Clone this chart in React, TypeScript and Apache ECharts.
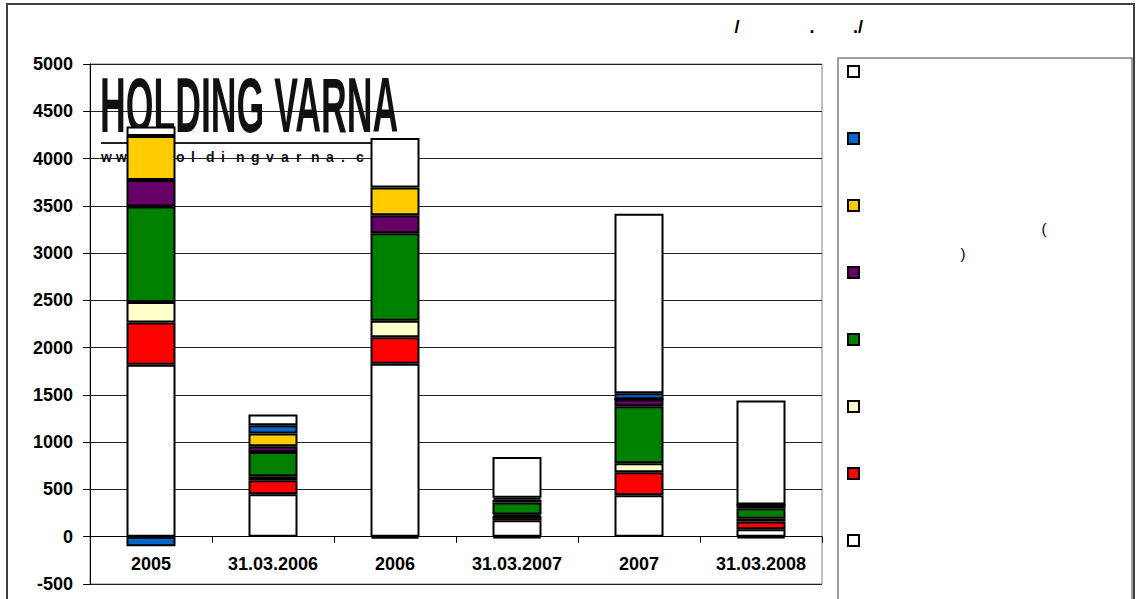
import React, { useEffect, useRef } from "react";
import * as echarts from "echarts";

const categories = ["2005", "31.03.2006", "2006", "31.03.2007", "2007", "31.03.2008"];

// stacked from bottom to top
const whiteBottom = [1820, 450, 1830, 175, 440, 80];
const red = [447, 148, 280, 45, 243, 80];
const lightYellow = [217, 42, 175, 15, 95, 30];
const green = [1009, 256, 925, 127, 602, 110];
const purple = [280, 60, 190, 30, 74, 40];
const yellow = [466, 137, 293, 20, 0, 0];
const blue = [-100, 85, -20, -15, 64, -15];
const whiteTop = [100, 114, 523, 430, 1899, 1100];

const yTicks = { min: -500, max: 5000, interval: 500 };

const seriesDefs = [
  { name: "s1", data: whiteBottom, color: "#FFFFFF" },
  { name: "s2", data: red, color: "#FF0000" },
  { name: "s3", data: lightYellow, color: "#FFFFCC" },
  { name: "s4", data: green, color: "#008000" },
  { name: "s5", data: purple, color: "#660066" },
  { name: "s6", data: yellow, color: "#FFCC00" },
  { name: "s7", data: blue, color: "#0066CC" },
  { name: "s8", data: whiteTop, color: "#FFFFFF" },
];

const titleFragments = [
  { text: "/", x: 737 },
  { text: ".", x: 812 },
  { text: "./", x: 858 },
];

const logoTitle = "HOLDING VARNA";
const logoSite = "www.holdingvarna.com";

const FONT = "'Liberation Sans', Arial, sans-serif";

const GRID_TOP = 64;
const GRID_HEIGHT = 520;

export default function App() {
  const ref = useRef<HTMLDivElement>(null);

  useEffect(() => {
    document.body.style.margin = "0";
    if (!ref.current) return;
    const chart = echarts.init(ref.current, null, { renderer: "svg" });

    // distance from grid bottom up to the zero line
    const zeroOffset = (GRID_HEIGHT * (0 - yTicks.min)) / (yTicks.max - yTicks.min);

    const siteChars = logoSite.split("").map((ch, i) => ({
      type: "text",
      x: 101 + i * 15,
      y: 157,
      z: 1,
      silent: true,
      style: {
        text: ch,
        fontFamily: FONT,
        fontWeight: "bold",
        fontSize: 14,
        fill: "#111",
        align: "left",
        verticalAlign: "middle",
      },
    }));

    const graphics: any[] = [
      {
        type: "rect",
        z: 0,
        silent: true,
        shape: { x: 7, y: 4, width: 1127, height: 700 },
        style: { fill: "none", stroke: "#404040", lineWidth: 2 },
      },
      {
        type: "rect",
        z: 0,
        silent: true,
        shape: { x: 838, y: 58, width: 294, height: 700 },
        style: { fill: "none", stroke: "#808080", lineWidth: 1.5 },
      },
      ...titleFragments.map((f) => ({
        type: "text",
        x: f.x,
        y: 27,
        silent: true,
        style: {
          text: f.text,
          fontFamily: FONT,
          fontWeight: "bold",
          fontSize: 18,
          fill: "#000",
          align: "center",
          verticalAlign: "middle",
        },
      })),
      {
        type: "text",
        x: 1044,
        y: 228,
        silent: true,
        style: { text: "(", fontFamily: FONT, fontSize: 15, fill: "#000", align: "center", verticalAlign: "middle" },
      },
      {
        type: "text",
        x: 963,
        y: 253,
        silent: true,
        style: { text: ")", fontFamily: FONT, fontSize: 15, fill: "#000", align: "center", verticalAlign: "middle" },
      },
      {
        type: "text",
        x: 100,
        y: 105,
        z: 1,
        scaleX: 1.08,
        scaleY: 2.35,
        silent: true,
        style: {
          text: logoTitle,
          fontFamily: FONT,
          fontWeight: "bold",
          fontSize: 33,
          fill: "#111",
          align: "left",
          verticalAlign: "middle",
        },
      },
      {
        type: "line",
        z: 1,
        silent: true,
        shape: { x1: 101, y1: 143, x2: 398, y2: 143 },
        style: { stroke: "#222", lineWidth: 2 },
      },
      ...siteChars,
    ];

    chart.setOption({
      animation: false,
      backgroundColor: "#fff",
      grid: {
        left: 90,
        top: GRID_TOP,
        width: 732,
        height: GRID_HEIGHT,
        outerBoundsMode: "none",
        containLabel: false,
        show: true,
        borderColor: "#808080",
        borderWidth: 1,
        backgroundColor: "transparent",
      },
      legend: {
        orient: "vertical",
        left: 842,
        top: 60,
        itemWidth: 11,
        itemHeight: 11,
        itemGap: 54,
        icon: "rect",
        data: seriesDefs.map((s) => s.name).reverse(),
        formatter: () => "",
        textStyle: { fontSize: 11 },
        itemStyle: { borderColor: "#000", borderWidth: 2 },
        selectedMode: false,
      },
      xAxis: {
        type: "category",
        data: categories,
        position: "bottom",
        offset: -zeroOffset,
        axisLine: { onZero: false, lineStyle: { color: "#000", width: 1 } },
        axisTick: { show: true, length: 6, lineStyle: { color: "#000" } },
        axisLabel: {
          interval: 0,
          margin: 18,
          fontFamily: FONT,
          fontWeight: "bold",
          fontSize: 18,
          color: "#000",
        },
        splitLine: { show: false },
      },
      yAxis: {
        type: "value",
        min: yTicks.min,
        max: yTicks.max,
        interval: yTicks.interval,
        axisLine: { show: true, lineStyle: { color: "#000", width: 1 } },
        axisTick: { show: true, length: 7, lineStyle: { color: "#000" } },
        axisLabel: {
          margin: 17,
          fontFamily: FONT,
          fontWeight: "bold",
          fontSize: 18,
          color: "#000",
          formatter: (v: number) => String(v),
        },
        splitLine: { show: true, lineStyle: { color: "#222", width: 1 } },
      },
      graphic: { elements: graphics },
      series: seriesDefs.map((s) => ({
        name: s.name,
        type: "bar",
        stack: "total",
        barWidth: 49,
        data: s.data,
        itemStyle: { color: s.color, borderColor: "#000", borderWidth: 2 },
        emphasis: { disabled: true },
      })),
    });

    return () => chart.dispose();
  }, []);

  return <div ref={ref} style={{ width: 1136, height: 599, background: "#fff" }} />;
}
